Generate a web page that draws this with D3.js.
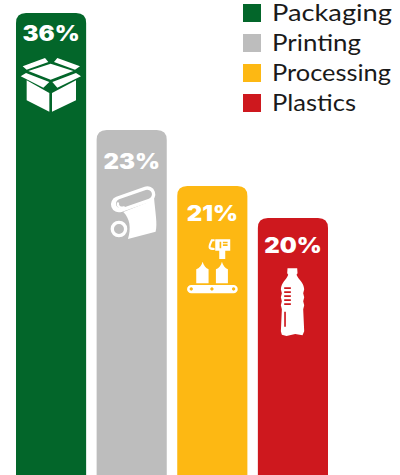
<!DOCTYPE html>
<html>
<head>
<meta charset="utf-8">
<script src="https://cdn.jsdelivr.net/npm/d3@7"></script>
<style>
  html, body { margin: 0; padding: 0; background: #fff; }
  svg { display: block; }
</style>
</head>
<body>
<div id="chart"></div>
<script>
const categories = ['Packaging', 'Printing', 'Processing', 'Plastics'];
const shares = [36, 23, 21, 20];
const colors = ['#03662a', '#bdbdbd', '#fdb813', '#ce181e'];

const width = 400;
const height = 475;

const svg = d3.select('#chart')
    .append('svg')
    .attr('width', width)
    .attr('height', height);

const x = d3.scaleBand()
    .domain(categories)
    .range([16, 328])
    .paddingInner(0.13)
    .paddingOuter(0);

// the bars in the picture are not proportional to their labels, so the scale is piecewise
const y = d3.scaleLinear()
    .domain([20, 21, 23, 36])
    .range([218, 186, 130, 13]);

// icons are drawn at 3x with the origin on the bar's top left corner
const icons = {
    Packaging: (g) => {
        g.append('path').attr('d',
            'M32 202 L100 240 L100 296 L32 262 Z' +
            'M108 296 L108 240 L180 202 L180 262 Z' +
            'M37 174 L104 152 L172 174 L104 200 Z' +
            'M20 160 L87 135 L97 147 L32 170 Z' +
            'M114 147 L124 135 L192 160 L177 170 Z' +
            'M14 190 L30 180 L100 207 L82 224 Z' +
            'M109 207 L180 180 L195 190 L124 224 Z');
    },
    Printing: (g, color) => {
        // lower roll sits behind the sheet
        g.append('circle')
            .attr('cx', 67).attr('cy', 297).attr('r', 20)
            .attr('fill', color)
            .attr('stroke', '#fff')
            .attr('stroke-width', 10);
        g.append('path').attr('d',
            'M172 200 C176 250 183 280 177 305 L94 327 C104 295 100 265 80 246 L150 218 Z');
        // upper roll is a thick white line with a thinner line inside it
        g.append('path')
            .attr('d', 'M67 223 L152 193')
            .attr('stroke', '#fff')
            .attr('stroke-width', 48)
            .attr('stroke-linecap', 'round');
        g.append('path')
            .attr('d', 'M72 221 L152 193')
            .attr('stroke', color)
            .attr('stroke-width', 28)
            .attr('stroke-linecap', 'round');
        g.append('path')
            .attr('d', 'M82 232 C72 236 62 230 64 220')
            .attr('fill', 'none')
            .attr('stroke', '#fff')
            .attr('stroke-width', 7)
            .attr('stroke-linecap', 'round');
    },
    Processing: (g) => {
        g.append('path').attr('fill-rule', 'evenodd').attr('d',
            'M114 160 L159 160 L159 194 L144 194 L144 219 L126 219 L126 194 L114 194 Z' +
            'M127 167 L132 167 L132 187 L127 187 Z M137 167 L151 167 L151 172 L137 172 Z M137 175 L151 175 L151 180 L137 180 Z');
        g.append('path').attr('d',
            'M102 160 L112 160 L112 166 L106 166 C102 174 100 180 100 184 L112 186 L112 192 C100 192 94 190 94 182 C94 176 98 168 102 160 Z' +
            'M57 250 C66 246 74 238 76 227 C79 238 86 246 94 250 L94 292 L57 292 Z' +
            'M116 250 C125 246 132 238 134 227 C137 238 144 246 152 250 L152 292 L116 292 Z');
        g.append('path').attr('fill-rule', 'evenodd').attr('d',
            'M42 297 L169 297 A12.5 12.5 0 0 1 169 322 L42 322 A12.5 12.5 0 0 1 42 297 Z' +
            'M42 304 a5 5 0 1 0 0.1 0 Z M104 304 a5 5 0 1 0 0.1 0 Z M169 304 a5 5 0 1 0 0.1 0 Z');
    },
    Plastics: (g) => {
        g.append('path').attr('fill-rule', 'evenodd').attr('d',
            'M89 151 L118 151 L119 166 L116 170 C122 186 138 192 139 214 L136 226 L139 238 L136 250 L139 262 L136 274 L139 340 L134 352 L112 348 L86 354 L72 350 L69 340 L72 274 L69 262 L72 250 L69 238 L72 226 L69 214 C70 192 86 186 91 170 L88 166 Z' +
            'M79 208 L99 208 L99 213 L79 213 Z M79 220 L99 220 L99 225 L79 225 Z M79 232 L99 232 L99 237 L79 237 Z M79 244 L99 244 L99 249 L79 249 Z M79 256 L99 256 L99 261 L79 261 Z' +
            'M79 281 L84 281 L84 326 L79 326 Z');
    }
};

// label baseline below the top of each bar
const labelOffsets = { Packaging: 28, Printing: 39, Processing: 35, Plastics: 35 };

// legend text widths as measured, the installed font runs narrower than the original
const legendWidths = { Packaging: 120, Printing: 89, Processing: 119, Plastics: 84 };

const bars = svg.selectAll('g.bar')
    .data(categories)
    .join('g')
    .attr('class', 'bar');

bars.append('path')
    .attr('fill', (_, i) => colors[i])
    .attr('d', (d, i) => {
        const left = x(d);
        const top = y(shares[i]);
        const r = 10;
        const right = left + x.bandwidth();
        return `M${left} ${height} V${top + r} Q${left} ${top} ${left + r} ${top}` +
            `H${right - r} Q${right} ${top} ${right} ${top + r} V${height} Z`;
    });

bars.append('text')
    .attr('transform', (d, i) =>
        `translate(${x(d) + x.bandwidth() / 2},${y(shares[i]) + labelOffsets[d]}) scale(1.14,1)`)
    .attr('text-anchor', 'middle')
    .attr('fill', '#fff')
    .attr('font-family', 'Inter, sans-serif')
    .attr('font-weight', 900)
    .attr('font-size', 21)
    .text((_, i) => `${shares[i]}%`);

bars.each(function (d, i) {
    const icon = d3.select(this)
        .append('g')
        .attr('fill', '#fff')
        .attr('transform', `translate(${x(d)},${y(shares[i])}) scale(${1 / 3})`);
    icons[d](icon, colors[i]);
});

const legend = svg.selectAll('g.legend')
    .data(categories)
    .join('g')
    .attr('class', 'legend')
    .attr('transform', (_, i) => `translate(243,${4 + i * 30})`);

legend.append('rect')
    .attr('width', 18)
    .attr('height', 18)
    .attr('fill', (_, i) => colors[i]);

legend.append('text')
    .attr('x', 29)
    .attr('y', 16.5)
    .attr('textLength', (d) => legendWidths[d])
    .attr('lengthAdjust', 'spacingAndGlyphs')
    .attr('fill', '#1a1a1a')
    .attr('font-family', 'Lato, sans-serif')
    .attr('font-size', 23.5)
    .text((d) => d);
</script>
</body>
</html>
